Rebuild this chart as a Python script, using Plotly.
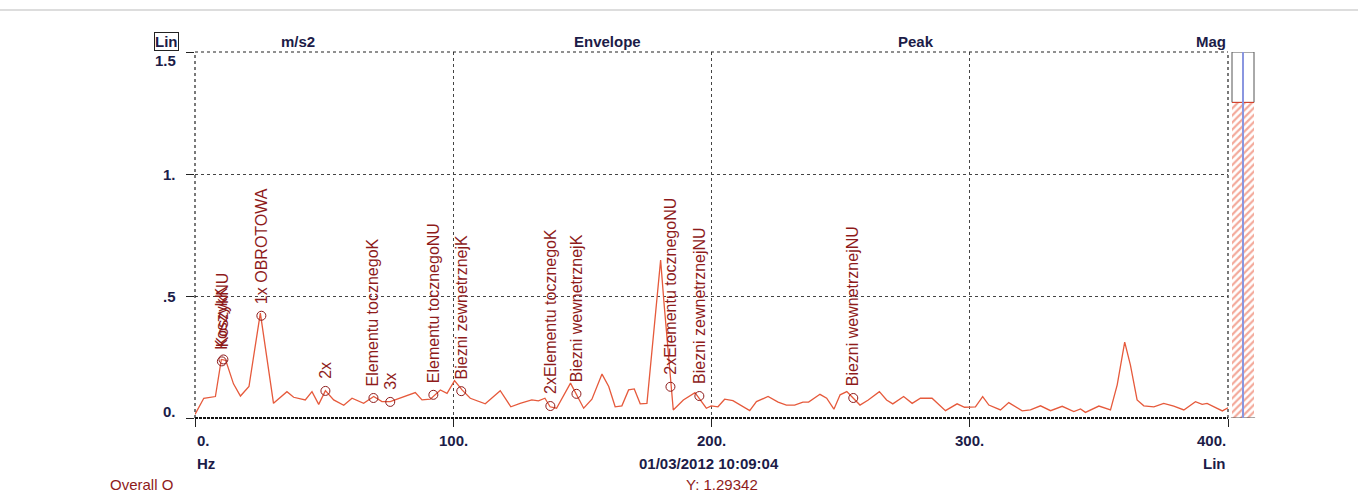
import plotly.graph_objects as go

# Envelope spectrum (Hz, m/s2 peak)
freq_hz = [
    0.0, 3.4, 7.9, 10.2, 11.9, 14.9, 17.6, 20.9, 25.3, 30.4, 35.6, 38.2, 42.7,
    45.3, 47.9, 50.5, 53.7, 57.6, 60.8, 65.3, 69.2, 72.4, 75.6, 80.8, 85.3,
    87.9, 91.1, 95.0, 97.6, 100.5, 103.4, 106.6, 112.4, 118.2, 122.3, 125.9,
    130.4, 133.0, 135.5, 137.5, 140.0, 145.4, 150.5, 153.7, 157.6, 160.2,
    162.7, 165.3, 167.9, 170.1, 172.4, 175.0, 180.3, 181.7, 185.2, 189.1,
    193.6, 198.0, 199.9, 202.5, 205.1, 208.3, 211.6, 214.8, 217.4, 221.9,
    225.8, 229.0, 232.2, 235.4, 237.6, 242.0, 244.6, 247.4, 249.8, 252.4,
    257.5, 260.7, 265.0, 267.8, 270.2, 274.4, 277.7, 280.9, 285.4, 290.6,
    295.1, 298.0, 302.2, 305.0, 307.4, 311.9, 315.1, 320.3, 323.5, 327.4,
    331.3, 335.8, 340.3, 342.9, 344.8, 350.0, 354.5, 357.1, 360.0, 362.2,
    364.8, 367.4, 371.3, 375.1, 379.0, 382.9, 387.4, 390.0, 391.9, 395.2,
    397.8, 400.0,
]
amplitude = [
    0.015, 0.081, 0.088, 0.240, 0.236, 0.140, 0.090, 0.129, 0.430, 0.060,
    0.108, 0.085, 0.074, 0.108, 0.056, 0.112, 0.074, 0.052, 0.081, 0.060,
    0.088, 0.067, 0.067, 0.088, 0.104, 0.074, 0.077, 0.115, 0.101, 0.153,
    0.115, 0.081, 0.058, 0.112, 0.046, 0.060, 0.074, 0.070, 0.081, 0.046,
    0.040, 0.143, 0.040, 0.077, 0.180, 0.129, 0.046, 0.050, 0.115, 0.119,
    0.058, 0.060, 0.647, 0.460, 0.033, 0.074, 0.104, 0.040, 0.050, 0.046,
    0.077, 0.071, 0.050, 0.030, 0.067, 0.088, 0.065, 0.053, 0.053, 0.065,
    0.065, 0.097, 0.081, 0.036, 0.095, 0.108, 0.053, 0.074, 0.108, 0.074,
    0.058, 0.088, 0.060, 0.081, 0.081, 0.030, 0.058, 0.044, 0.046, 0.088,
    0.053, 0.033, 0.063, 0.029, 0.033, 0.050, 0.030, 0.048, 0.026, 0.037,
    0.023, 0.049, 0.033, 0.136, 0.311, 0.218, 0.074, 0.050, 0.046, 0.060,
    0.049, 0.033, 0.067, 0.056, 0.060, 0.042, 0.029, 0.042,
]

# Fault-frequency markers
marker_labels = [
    "KoszykK", "KoszykNU", "1x OBROTOWA", "2x", "Elementu tocznegoK", "3x",
    "Elementu tocznegoNU", "Biezni zewnetrznejK", "2xElementu tocznegoK",
    "Biezni wewnetrznejK", "2xElementu tocznegoNU", "Biezni zewnetrznejNU",
    "Biezni wewnetrznejNU",
]
marker_freq = [10.4, 11.0, 25.7, 50.5, 69.1, 75.6, 92.3, 103.1, 137.6,
               147.7, 184.1, 195.3, 254.9]
marker_amp = [0.232, 0.240, 0.419, 0.111, 0.082, 0.066, 0.095, 0.110, 0.049,
              0.099, 0.128, 0.090, 0.082]

# Axis ticks and header texts
x_ticks = [0, 100, 200, 300, 400]
x_tick_text = ["0.", "100.", "200.", "300.", "400."]
y_ticks = [0, 0.5, 1.0, 1.5]
y_tick_text = ["0.", ".5", "1.", "1.5"]
header_texts = ["m/s2", "Envelope", "Peak", "Mag"]
overall_value = 1.29342
timestamp = "01/03/2012 10:09:04"

W, H = 1358, 500
ML, MR, MT, MB = 195, 104, 52, 82
PW = W - ML - MR
PH = H - MT - MB
MAIN_RIGHT = 1228


def px(xp):
    return (xp - ML) / PW


def py(yp):
    return (H - MB - yp) / PH


NAVY = "#1c1c48"
DARKRED = "#8e1b1b"
LINE = "#e65a3c"
FONT = "Liberation Sans, Arial, sans-serif"

fig = go.Figure()

fig.add_trace(go.Scatter(
    x=freq_hz, y=amplitude, mode="lines",
    line=dict(color=LINE, width=1.3), hoverinfo="x+y", showlegend=False,
))

fig.add_trace(go.Scatter(
    x=marker_freq, y=marker_amp, mode="markers",
    marker=dict(symbol="circle-open", size=9, color=DARKRED,
                line=dict(width=1, color=DARKRED)),
    hovertext=marker_labels, hoverinfo="text", showlegend=False,
))

# Overall level bar beside the spectrum
fig.add_trace(go.Bar(
    x=[0], y=[overall_value], width=[1], xaxis="x2", yaxis="y2",
    marker=dict(color="white", line=dict(width=0),
                pattern=dict(shape="/", fgcolor="#e85436", bgcolor="white",
                             size=5, solidity=0.45)),
    hoverinfo="y", showlegend=False,
))

annotations = []

for lab, f, a in zip(marker_labels, marker_freq, marker_amp):
    annotations.append(dict(
        x=f, y=a, xref="x", yref="y", text=lab, showarrow=False,
        textangle=-90, xanchor="center", yanchor="bottom", yshift=10,
        font=dict(family=FONT, size=16, color=DARKRED),
    ))

# y tick labels, pulled inward at the ends
for v, t in zip(y_ticks, y_tick_text):
    shift = 0
    if v == y_ticks[0]:
        shift = 7
    elif v == y_ticks[-1]:
        shift = -8
    annotations.append(dict(
        x=px(178), y=v, xref="paper", yref="y", text=f"<b>{t}</b>",
        showarrow=False, xanchor="right", yanchor="middle", yshift=shift,
        font=dict(family=FONT, size=15, color=NAVY),
    ))

# x tick labels: first left-aligned, last right-aligned
for i, (v, t) in enumerate(zip(x_ticks, x_tick_text)):
    anchor = "center"
    if i == 0:
        anchor = "left"
    elif i == len(x_ticks) - 1:
        anchor = "right"
    annotations.append(dict(
        x=v, y=py(440), xref="x", yref="paper", text=f"<b>{t}</b>",
        showarrow=False, xanchor=anchor, yanchor="middle",
        font=dict(family=FONT, size=15, color=NAVY),
    ))

annotations += [
    dict(x=x_ticks[0], y=py(463), xref="x", yref="paper", text="<b>Hz</b>",
         showarrow=False, xanchor="left", yanchor="middle",
         font=dict(family=FONT, size=15, color=NAVY)),
    dict(x=x_ticks[-1], y=py(463), xref="x", yref="paper", text="<b>Lin</b>",
         showarrow=False, xanchor="right", yanchor="middle",
         font=dict(family=FONT, size=15, color=NAVY)),
    dict(x=px(709), y=py(463), xref="paper", yref="paper",
         text=f"<b>{timestamp}</b>", showarrow=False, xanchor="center",
         yanchor="middle", font=dict(family=FONT, size=15, color=NAVY)),
    dict(x=px(108), y=py(484), xref="paper", yref="paper", text="Overall O",
         showarrow=False, xanchor="left", yanchor="middle",
         font=dict(family=FONT, size=15, color=DARKRED)),
    dict(x=px(722), y=py(484), xref="paper", yref="paper",
         text=f"Y: {overall_value}", showarrow=False, xanchor="center",
         yanchor="middle", font=dict(family=FONT, size=15, color=DARKRED)),
    dict(x=px(166), y=py(42), xref="paper", yref="paper", text="<b>Lin</b>",
         showarrow=False, xanchor="center", yanchor="middle",
         bordercolor="#222222", borderwidth=1, borderpad=0,
         font=dict(family=FONT, size=15, color=NAVY)),
]

header_x = [298, 607, 916, MAIN_RIGHT]
header_anchor = ["center", "center", "center", "right"]
for t, hx, anc in zip(header_texts, header_x, header_anchor):
    annotations.append(dict(
        x=px(hx), y=py(42), xref="paper", yref="paper", text=f"<b>{t}</b>",
        showarrow=False, xanchor=anc, yanchor="middle",
        font=dict(family=FONT, size=15, color=NAVY),
    ))

shapes = [
    # plot frame
    dict(type="line", xref="x domain", yref="y domain", x0=0, x1=1, y0=1, y1=1,
         line=dict(color="#222222", width=1.2, dash="dot")),
    dict(type="line", xref="x domain", yref="y domain", x0=0, x1=0, y0=0, y1=1,
         line=dict(color="#222222", width=1.2, dash="dot")),
    dict(type="line", xref="x domain", yref="y domain", x0=1, x1=1, y0=0, y1=1,
         line=dict(color="#222222", width=1.2, dash="dot")),
    dict(type="line", xref="x domain", yref="y domain", x0=0, x1=1, y0=0, y1=0,
         line=dict(color="#111111", width=2, dash="3px,1px")),
    # level bar outline and cursor
    dict(type="rect", xref="x2 domain", yref="y2", x0=0, x1=1,
         y0=overall_value, y1=1.5, line=dict(color="#555555", width=1)),
    dict(type="line", xref="x2 domain", yref="y2", x0=0, x1=1,
         y0=overall_value, y1=overall_value, line=dict(color="#e0402a", width=1)),
    dict(type="line", xref="x2 domain", yref="y2", x0=-0.05, x1=1.05,
         y0=0, y1=0, line=dict(color="#555555", width=1)),
    dict(type="line", xref="x2 domain", yref="y2 domain", x0=0.5, x1=0.5,
         y0=0, y1=1, line=dict(color="#8a96e0", width=2)),
    # page frame
    dict(type="line", xref="paper", yref="paper", x0=px(0), x1=px(W),
         y0=py(10), y1=py(10), line=dict(color="#bbbbbb", width=1)),
]

fig.update_layout(
    width=W, height=H, autosize=False,
    margin=dict(l=ML, r=MR, t=MT, b=MB, pad=0),
    paper_bgcolor="white", plot_bgcolor="white",
    font=dict(family=FONT, size=15, color=NAVY),
    xaxis=dict(
        domain=[0, px(MAIN_RIGHT)], range=[0, 400], tickvals=x_ticks,
        showticklabels=False, ticks="outside", ticklen=8, tickcolor="#222222",
        tickwidth=1, showgrid=True, gridcolor="#444444", griddash="dot",
        gridwidth=1, zeroline=False, showline=False,
    ),
    yaxis=dict(
        range=[0, 1.5], tickvals=y_ticks, showticklabels=False,
        ticks="outside", ticklen=8, tickcolor="#222222", tickwidth=1,
        showgrid=True, gridcolor="#444444", griddash="dot", gridwidth=1,
        zeroline=False, showline=False,
    ),
    xaxis2=dict(domain=[px(1232), 1.0], range=[-0.5, 0.5], visible=False,
                anchor="y2"),
    yaxis2=dict(range=[0, 1.5], visible=False, anchor="x2", overlaying="y"),
    bargap=0,
    annotations=annotations,
    shapes=shapes,
)

fig.write_html("out.html")
